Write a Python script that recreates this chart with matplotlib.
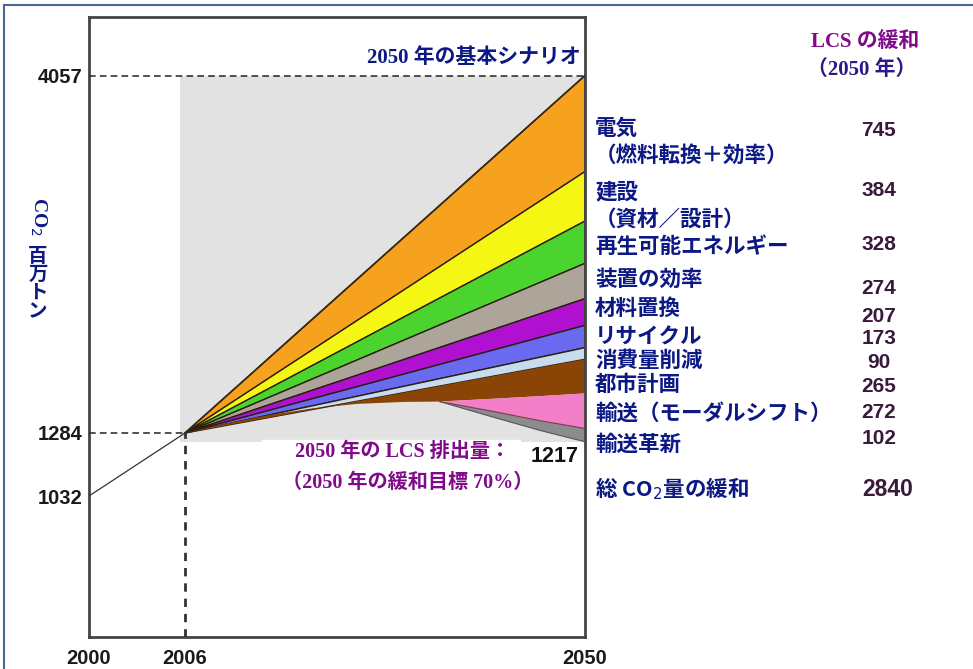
import numpy as np
import matplotlib.pyplot as plt
from matplotlib.lines import Line2D

# axis ticks (schematic, not linear in the original)
x_ticks = [2000, 2006, 2050]
y_ticks = [1032, 1284, 4057]

# emission path
start_year = 2006
end_year = 2050
hist_years = [2000, 2006]
hist_values = [1032, 1284]
baseline_2050 = 4057
lcs_2050 = 1217

# mitigation wedges in 2050 (top to bottom)
labels = ["電気\n（燃料転換＋効率）", "建設\n（資材／設計）", "再生可能エネルギー", "装置の効率",
          "材料置換", "リサイクル", "消費量削減", "都市計画", "輸送（モーダルシフト）", "輸送革新"]
wedges = [745, 384, 328, 274, 207, 173, 90, 265, 272, 102]
total = 2840
colors = ["#f7a21e", "#f6f614", "#4cd42e", "#ada59a", "#b010d0", "#6a6af0",
          "#c8dcf0", "#8a4405", "#f27fc8", "#8c8c8c"]

# lower edges of the curved wedges
urban_years = [2006, 2010, 2015, 2020, 2025, 2030, 2034, 2040, 2045, 2050]
urban_bottom = [1284, 1350, 1420, 1475, 1510, 1525, 1528, 1550, 1570, 1591]
late_years = [2034, 2040, 2045, 2050]
modal_bottom = [1528, 1450, 1380, 1319]
emission_bottom = [1528, 1405, 1305, 1217]

# right-hand text rows (figure pixel y)
label_y = [128, 192, 246, 279, 308, 337, 360, 384, 413, 444]
value_y = [130, 190, 245, 288, 316, 339, 362, 386, 413, 438]

W, H = 973, 669
fig = plt.figure(figsize=(W / 100, H / 100), dpi=100)
ax = fig.add_axes([89 / W, 1 - 637 / H, 496 / W, (637 - 17) / H])

# piecewise scales to mimic the schematic axes
xk_val, xk_pos = [2000, 2006, 2050], [0, 96, 496]
yk_val, yk_pos = [0, 1032, 1200, 1284, 4511], [0, 141, 193, 204, 620]
ax.set_xscale("function", functions=(lambda v: np.interp(v, xk_val, xk_pos),
                                     lambda p: np.interp(p, xk_pos, xk_val)))
ax.set_yscale("function", functions=(lambda v: np.interp(v, yk_val, yk_pos),
                                     lambda p: np.interp(p, yk_pos, yk_val)))
ax.set_xlim(2000, 2050)
ax.set_ylim(0, 4511)

# grey background panel
ax.fill_between([2005.7, end_year], lcs_2050, baseline_2050, color="#e2e2e2", lw=0, zorder=0)

# straight wedges
tops = baseline_2050 - np.concatenate([[0], np.cumsum(wedges)])
for i in range(7):
    ax.fill([start_year, end_year, end_year], [hist_values[1], tops[i], tops[i + 1]],
            color=colors[i], ec="#2a1e10", lw=1.0, zorder=2)

# curved wedges
ax.fill([start_year, end_year] + urban_years[::-1], [hist_values[1], tops[7]] + urban_bottom[::-1],
        color=colors[7], lw=0, zorder=2)
ax.fill(urban_years[6:] + late_years[::-1], urban_bottom[6:] + modal_bottom[::-1],
        color=colors[8], lw=0, zorder=2)
ax.fill(late_years + late_years[::-1], modal_bottom + emission_bottom[::-1],
        color=colors[9], lw=0, zorder=2)
ax.plot(late_years, modal_bottom, color="#7a3a50", lw=0.8, zorder=3)
ax.plot(late_years, emission_bottom, color="#555555", lw=0.8, zorder=3)
ax.plot([start_year, end_year], [hist_values[1], tops[0]], color="#3a2810", lw=1.2, zorder=3)

# history + guide lines
ax.plot(hist_years, hist_values, color="#333333", lw=0.9, zorder=3)
ax.plot([2000, end_year], [baseline_2050, baseline_2050], color="#333333", lw=1.2, ls=(0, (4, 2.5)), zorder=3)
ax.plot([2000, start_year], [hist_values[1], hist_values[1]], color="#333333", lw=1.2, ls=(0, (4, 2.5)), zorder=3)
ax.plot([start_year, start_year], [0, hist_values[1]], color="#333333", lw=2.0, ls=(0, (3, 2.5)), zorder=3)

ax.set_xticks(x_ticks)
ax.set_xticklabels([str(v) for v in x_ticks])
ax.set_yticks(y_ticks)
ax.set_yticklabels([str(v) for v in y_ticks])
ax.tick_params(axis="x", length=0, pad=9)
ax.tick_params(axis="y", length=0, pad=5)
for lab in ax.get_xticklabels() + ax.get_yticklabels():
    lab.set_fontfamily("Liberation Sans")
    lab.set_fontweight("bold")
    lab.set_fontsize(14.5)
    lab.set_color("#1a1a1a")
for s in ax.spines.values():
    s.set_color("#444444")
    s.set_linewidth(2.0)

serif_jp = ["Liberation Serif", "Noto Sans CJK JP"]
navy = "#0c1884"
purple = "#800a8a"

ax.text(2049.5, 4196, "2050 年の基本シナリオ", ha="right", va="center", fontsize=15,
        fontweight="bold", color=navy, family=serif_jp)
ax.text(2049.3, 1160, "1217", ha="right", va="center", fontsize=15.5, fontweight="bold",
        color="#111111", family="Liberation Sans", zorder=5)


def fx(px):
    return px / W


def fy(py):
    return 1 - py / H


fig.patches.append(plt.Rectangle((fx(262), fy(470)), 258 / W, 30 / H, transform=fig.transFigure,
                                 color="white", zorder=4))
fig.text(fx(403), fy(452), "2050 年の LCS 排出量：", ha="center", va="center", fontsize=14.5,
         fontweight="bold", color=purple, family=serif_jp, zorder=5)
fig.text(fx(408), fy(483), "（2050 年の緩和目標 70%）", ha="center", va="center", fontsize=14.5,
         fontweight="bold", color=purple, family=serif_jp, zorder=5)

# vertical y label
fig.text(fx(38), fy(216), "CO$_2$", rotation=270, ha="center", va="center", fontsize=14,
         color=navy, family="Liberation Serif", fontweight="bold")
fig.text(fx(38), fy(284), "百\n万\nト\nン", ha="center", va="center", fontsize=14,
         color=navy, family="Noto Sans CJK JP", fontweight="bold", linespacing=0.95)

# right-hand legend
fig.text(fx(865), fy(42), "LCS の緩和", ha="center", va="center", fontsize=15,
         fontweight="bold", color=purple, family=serif_jp)
fig.text(fx(862), fy(70), "（2050 年）", ha="center", va="center", fontsize=15,
         fontweight="bold", color="#281a88", family=serif_jp)

for lab, ly, val, vy in zip(labels, label_y, wedges, value_y):
    parts = lab.split("\n")
    fig.text(fx(595), fy(ly), parts[0], ha="left", va="center", fontsize=15.5,
             fontweight="bold", color=navy, family="Noto Sans CJK JP")
    if len(parts) > 1:
        fig.text(fx(595), fy(ly + 27), parts[1], ha="left", va="center", fontsize=15.5,
                 fontweight="bold", color=navy, family="Noto Sans CJK JP")
    fig.text(fx(879), fy(vy), str(val), ha="center", va="center", fontsize=15,
             fontweight="bold", color="#3a1a3a", family="Liberation Sans")

fig.text(fx(595), fy(489), "総 CO$_2$量の緩和", ha="left", va="center", fontsize=15.5,
         fontweight="bold", color=navy, family=["Noto Sans CJK JP", "DejaVu Sans"])
fig.text(fx(888), fy(490), str(total), ha="center", va="center", fontsize=16.5,
         fontweight="bold", color="#3a1a3a", family="Liberation Sans")

# outer frame (top and left only)
fig.add_artist(Line2D([fx(4), 1], [fy(5), fy(5)], transform=fig.transFigure, color="#4a6890", lw=1.5))
fig.add_artist(Line2D([fx(4), fx(4)], [0, fy(5)], transform=fig.transFigure, color="#4a6890", lw=1.5))

fig.savefig("out.png", dpi=100)
